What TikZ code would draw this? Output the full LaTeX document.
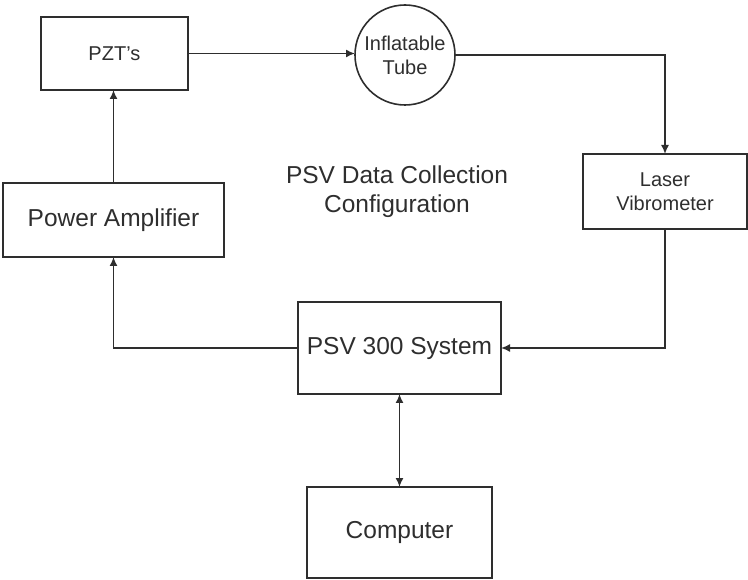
\documentclass[tikz,border=0pt]{standalone}
\usepackage{fontspec}
\setmainfont{Liberation Sans}
\usetikzlibrary{arrows.meta}
\definecolor{ink}{HTML}{2E2E2E}
\begin{document}
\begin{tikzpicture}[x=1pt,y=-1pt,
  box/.style={draw=ink,line width=1.6pt,rectangle,inner sep=0pt,outer sep=0pt,text=ink,align=center},
  tube/.style={draw=ink,line width=1.6pt,circle,minimum size=100pt,inner sep=0pt,outer sep=0pt,text=ink,align=center,font=\fontsize{20}{24}\selectfont},
  big/.style={font=\fontsize{24.5}{29}\selectfont},
  small/.style={font=\fontsize{20}{24}\selectfont},
  conn/.style={draw=ink,line width=1.6pt,-{Latex[length=9pt,width=8pt]}},
  >={Latex[length=9pt,width=8pt]}]
\useasboundingbox (0,0) rectangle (748,580);
\node[box,small,minimum width=147pt,minimum height=73pt] (pzt) at (114.4,53.5) {PZT's};
\node[tube] (tube) at (405,55) {Inflatable\\Tube};
\node[box,small,minimum width=164pt,minimum height=75pt] (laser) at (665,191.5) {Laser\\Vibrometer};
\node[box,big,minimum width=221pt,minimum height=74pt] (pa) at (113.5,220) {Power Amplifier};
\node[box,big,minimum width=203pt,minimum height=92pt] (psv) at (399.5,348) {PSV 300 System};
\node[box,big,minimum width=185pt,minimum height=91pt] (comp) at (399.5,532.5) {Computer};
\node[big,text=ink,align=center] (title) at (397,192) {PSV Data Collection\\Configuration};
\draw[conn] (pzt.east) -- (pzt.east -| tube.west);
\draw[conn] (tube.east) -| (laser.north);
\draw[conn] (laser.south) |- (psv.east);
\draw[conn] (psv.west) -| (pa.south);
\draw[conn] (pa.north) -- (pa.north |- pzt.south);
\draw[draw=ink,line width=1.6pt,<->] (psv.south) -- (comp.north);
\end{tikzpicture}
\end{document}
